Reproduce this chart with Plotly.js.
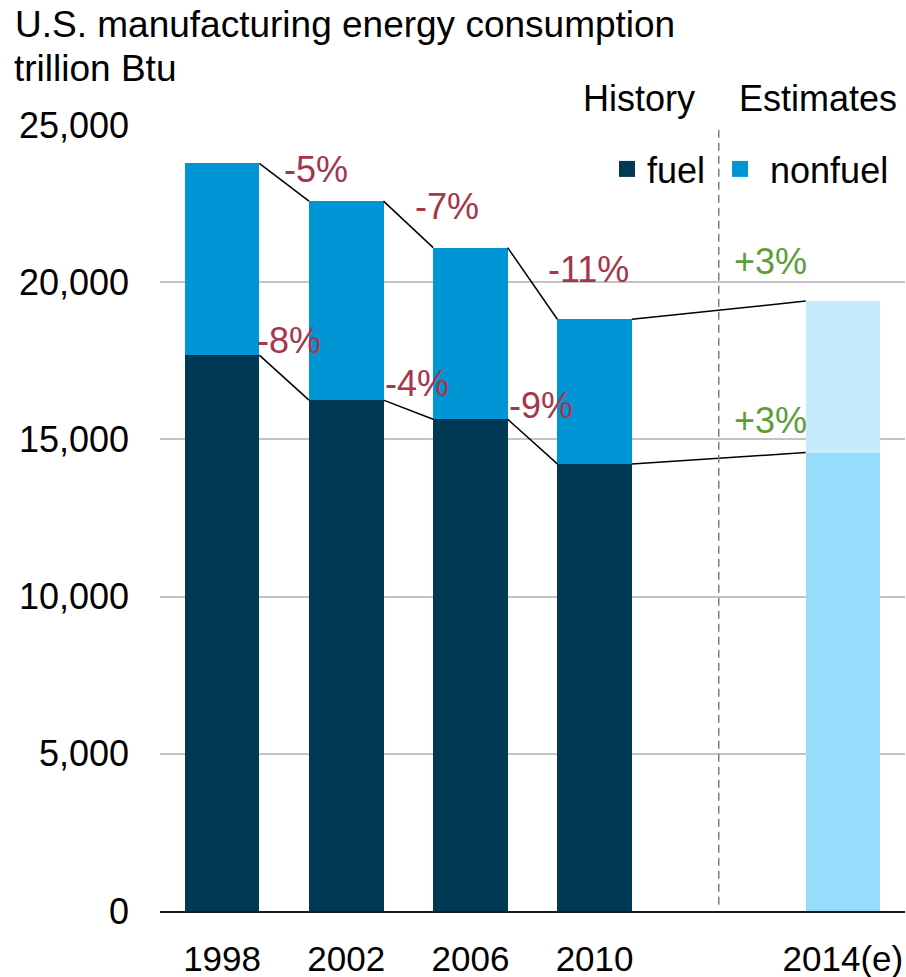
<!DOCTYPE html>
<html>
<head>
<meta charset="utf-8">
<script src="https://cdn.plot.ly/plotly-3.0.1.min.js"></script>
<style>html,body{margin:0;padding:0;background:#fff;}#chart{width:906px;height:977px;}</style>
</head>
<body>
<div id="chart"></div>
<script>
// ---- data ----
const years = ['1998', '2002', '2006', '2010', '2014(e)'];
const slots = [0, 1, 2, 3, 5];          // category slot of each year (slot 4 is the History/Estimates divider)
const fuel = [17680, 16250, 15640, 14220, 14580];
const nonfuel = [6100, 6330, 5460, 4600, 4820];
const totalChangeLabels = ['-5%', '-7%', '-11%', '+3%'];
const fuelChangeLabels = ['-8%', '-4%', '-9%', '+3%'];
const yTicks = [0, 5000, 10000, 15000, 20000, 25000];
const yTickText = ['0', '5,000', '10,000', '15,000', '20,000', '25,000'];
const dividerSlot = 4;

// ---- styling / layout helpers ----
const FONT = '"Liberation Sans", Arial, Helvetica, sans-serif';
const fuelColors = ['#003953', '#003953', '#003953', '#003953', '#96dcfb'];
const nonfuelColors = ['#0096d6', '#0096d6', '#0096d6', '#0096d6', '#c5ebfc'];
const RED = '#a6364a', GREEN = '#5e9e3a';
const BARW = 0.6;
// label placements (x in slot units, y in data units)
const totalLabelPos = [[0.76, 23570], [1.81, 22420], [2.95, 20390], [4.42, 20670]];
const fuelLabelPos = [[0.54, 18160], [1.57, 16790], [2.57, 16090], [4.42, 15590]];

const total = fuel.map((f, i) => f + nonfuel[i]);

function connector(vals) {
  const xs = [], ys = [];
  for (let i = 0; i < vals.length - 1; i++) {
    xs.push(slots[i] + BARW / 2, slots[i + 1] - BARW / 2, null);
    ys.push(vals[i], vals[i + 1], null);
  }
  return {x: xs, y: ys, type: 'scatter', mode: 'lines', line: {color: '#000', width: 1.5},
          showlegend: false, hoverinfo: 'skip', cliponaxis: false};
}

const traces = [
  {x: slots, y: fuel, type: 'bar', width: BARW, marker: {color: fuelColors, line: {width: 0}}, showlegend: false, name: 'fuel'},
  {x: slots, y: nonfuel, type: 'bar', width: BARW, marker: {color: nonfuelColors, line: {width: 0}}, showlegend: false, name: 'nonfuel'},
  connector(total),
  connector(fuel),
  {x: [null], y: [null], type: 'scatter', mode: 'markers', name: 'fuel\u00a0',
   marker: {symbol: 'square', size: 16, color: '#003953'}},
  {x: [null], y: [null], type: 'scatter', mode: 'markers', name: '\u00a0nonfuel',
   marker: {symbol: 'square', size: 16, color: '#0096d6'}}
];

const annotations = [];
totalChangeLabels.forEach((t, i) => {
  annotations.push({x: totalLabelPos[i][0], y: totalLabelPos[i][1], xref: 'x', yref: 'y', text: t,
    showarrow: false, xanchor: 'center', yanchor: 'middle',
    font: {family: FONT, size: 36, color: t.startsWith('+') ? GREEN : RED}});
});
fuelChangeLabels.forEach((t, i) => {
  annotations.push({x: fuelLabelPos[i][0], y: fuelLabelPos[i][1], xref: 'x', yref: 'y', text: t,
    showarrow: false, xanchor: 'center', yanchor: 'middle',
    font: {family: FONT, size: 36, color: t.startsWith('+') ? GREEN : RED}});
});
annotations.push(
  {x: (12 - 160) / 745, y: (911 - 68) / 786, xref: 'paper', yref: 'paper', text: 'trillion Btu', showarrow: false,
   xanchor: 'left', yanchor: 'middle', font: {family: FONT, size: 37, color: '#000'}},
  {x: dividerSlot - 0.64, y: 1.005, xref: 'x', yref: 'paper', text: 'History', showarrow: false,
   xanchor: 'center', yanchor: 'bottom', font: {family: FONT, size: 36, color: '#000'}},
  {x: dividerSlot + 0.8, y: 1.005, xref: 'x', yref: 'paper', text: 'Estimates', showarrow: false,
   xanchor: 'center', yanchor: 'bottom', font: {family: FONT, size: 36, color: '#000'}}
);

const layout = {
  width: 906, height: 977,
  margin: {l: 160, r: 1, t: 125, b: 66, pad: 0},
  paper_bgcolor: '#fff', plot_bgcolor: '#fff',
  barmode: 'stack',
  font: {family: FONT, size: 36, color: '#000'},
  title: {text: 'U.S. manufacturing energy consumption', x: 15 / 906, xanchor: 'left', xref: 'container',
          y: 1 - 24 / 977, yanchor: 'middle', yref: 'container', font: {family: FONT, size: 37, color: '#000'}},
  xaxis: {range: [-0.5, 5.5], tickvals: slots, ticktext: years, showgrid: false, zeroline: false,
          showline: true, linecolor: '#1a1a1a', linewidth: 2, ticks: '', ticklabelstandoff: 16,
          tickfont: {family: FONT, size: 35, color: '#000'}, fixedrange: true},
  yaxis: {range: [0, 25000], tickvals: yTicks, ticktext: yTickText, showgrid: true, gridcolor: '#c3c3c3',
          gridwidth: 2, zeroline: false, showline: false, ticks: '', ticklabelstandoff: 30,
          tickfont: {family: FONT, size: 36, color: '#000'}, fixedrange: true},
  showlegend: true,
  legend: {orientation: 'h', x: 0.6, xanchor: 'left', y: 0.944, yanchor: 'middle', bgcolor: 'rgba(0,0,0,0)',
           font: {family: FONT, size: 36, color: '#000'}, traceorder: 'normal', itemclick: false},
  shapes: [{type: 'line', xref: 'x', yref: 'paper', x0: dividerSlot, x1: dividerSlot, y0: 0.008, y1: 1,
            line: {color: '#7f7f7f', width: 1.5, dash: '8px,5px'}}],
  annotations: annotations
};

Plotly.newPlot('chart', traces, layout, {displayModeBar: false, staticPlot: true});
</script>
</body>
</html>
